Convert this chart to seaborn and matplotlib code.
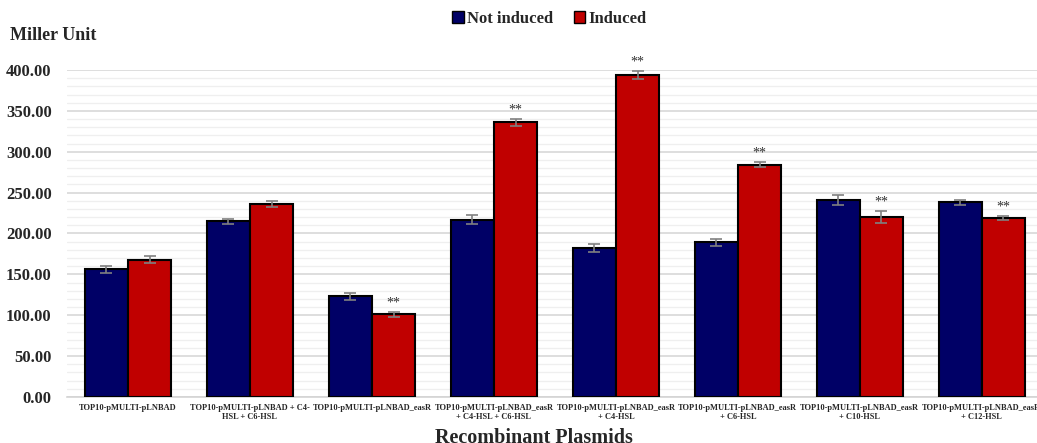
import pandas as pd
import seaborn as sns
import matplotlib.pyplot as plt
from matplotlib.ticker import MultipleLocator
from matplotlib.patches import Patch

# data
plasmids = [
    "TOP10-pMULTI-pLNBAD",
    "TOP10-pMULTI-pLNBAD + C4-\nHSL + C6-HSL",
    "TOP10-pMULTI-pLNBAD_easR",
    "TOP10-pMULTI-pLNBAD_easR\n+ C4-HSL + C6-HSL",
    "TOP10-pMULTI-pLNBAD_easR\n+ C4-HSL",
    "TOP10-pMULTI-pLNBAD_easR\n+ C6-HSL",
    "TOP10-pMULTI-pLNBAD_easR\n+ C10-HSL",
    "TOP10-pMULTI-pLNBAD_easR\n+ C12-HSL",
]
not_induced = [156, 215, 123, 217, 182, 189, 241, 238]
induced = [168, 236, 101, 336, 394, 284, 220, 219]
not_induced_err = [4, 3, 4, 6, 5, 4, 6, 3]
induced_err = [4, 4, 3, 4, 5, 3, 7, 2]
significant = [False, False, True, True, True, True, True, True]

conditions = ["Not induced", "Induced"]
colors = ["#000066", "#C00000"]

df = pd.DataFrame({
    "Plasmid": plasmids * 2,
    "Condition": [conditions[0]] * len(plasmids) + [conditions[1]] * len(plasmids),
    "Miller": not_induced + induced,
})

sns.set_style("white")
plt.rcParams["font.family"] = ["Liberation Serif", "DejaVu Serif"]

fig = plt.figure(figsize=(10.37, 4.43), dpi=100)
ax = fig.add_axes([0.0646, 0.104, 0.941, 0.738])

sns.barplot(data=df, x="Plasmid", y="Miller", hue="Condition",
            palette=colors, saturation=1, width=0.71, errorbar=None,
            edgecolor="black", linewidth=1.5, ax=ax, legend=False, zorder=3)
ax.set_xlim(-0.5, len(plasmids) - 0.5)

# error bars and significance marks
errs = [not_induced_err, induced_err]
vals = [not_induced, induced]
bar_conts = list(ax.containers)
for k, cont in enumerate(bar_conts):
    for i, bar in enumerate(cont.patches):
        xc = bar.get_x() + bar.get_width() / 2
        ax.errorbar(xc, vals[k][i], yerr=errs[k][i], fmt="none",
                    ecolor="#808080", elinewidth=1.2, capsize=4, capthick=1.2, zorder=4)
        if k == 1 and significant[i]:
            ax.text(xc, vals[k][i] + errs[k][i] + 3, "**", ha="center", va="bottom",
                    fontsize=10, color="#303030", clip_on=False)

ax.set_ylim(0, 400)
ax.yaxis.set_major_locator(MultipleLocator(50))
ax.yaxis.set_minor_locator(MultipleLocator(10))
ax.grid(axis="y", which="major", color="#d4d4d4", linewidth=1.1, zorder=0)
ax.grid(axis="y", which="minor", color="#efefef", linewidth=0.9, zorder=0)
ax.set_axisbelow(True)
ax.set_yticks(range(0, 401, 50))
ax.set_yticklabels([f"{v:.2f}" for v in range(0, 401, 50)],
                   fontsize=12, fontweight="bold")
ax.tick_params(axis="y", which="both", length=0, pad=11)
ax.tick_params(axis="x", length=0, pad=5)
for lab in ax.get_xticklabels():
    lab.set_fontsize(6.0)
    lab.set_fontweight("bold")

for s in ["top", "right", "left"]:
    ax.spines[s].set_visible(False)
ax.spines["bottom"].set_color("#d4d4d4")
ax.spines["bottom"].set_linewidth(1.2)

ax.set_xlabel("")
ax.set_ylabel("")
fig.text(0.515, -0.012, "Recombinant Plasmids", ha="center", va="bottom",
         fontsize=14.5, fontweight="bold")
fig.text(0.01, 0.92, "Miller Unit", ha="left", va="center",
         fontsize=13, fontweight="bold")

handles = [Patch(facecolor=c, edgecolor="black", linewidth=1.0) for c in colors]
fig.legend(handles, conditions, loc="center", bbox_to_anchor=(0.53, 0.958), ncol=2,
           frameon=False, prop={"weight": "bold", "size": 12},
           handlelength=0.7, handleheight=0.7, handletextpad=0.2, columnspacing=1.2)

fig.savefig("out.png", dpi=100)
plt.close(fig)
